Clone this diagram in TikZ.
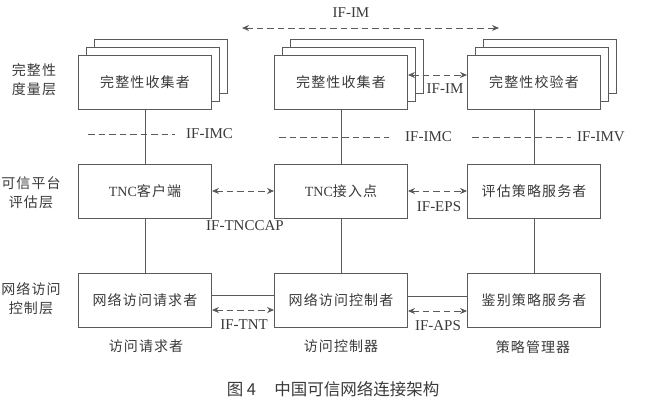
\documentclass[tikz,border=0pt]{standalone}
\usepackage{fontspec}
\setmainfont{Liberation Serif}
\newfontfamily\cjk[LetterSpace=8]{Noto Sans CJK SC}
\newfontfamily\cjkcap{Noto Sans CJK SC}
\usetikzlibrary{arrows.meta}
\definecolor{linegray}{HTML}{5A5A5A}
\definecolor{textgray}{HTML}{3A3A3A}

\begin{document}
\begin{tikzpicture}[x=1pt,y=-1pt,
  box/.style={draw=linegray,fill=white,line width=.9pt,inner sep=0pt,minimum width=133pt,minimum height=54pt,text=textgray,font=\fontsize{14}{16}\selectfont\cjk},
  lbl/.style={text=textgray,font=\fontsize{15}{17}\selectfont,inner sep=0pt},
  layer/.style={text=textgray,font=\fontsize{14}{19}\selectfont\cjk,align=center,inner sep=0pt},
  wire/.style={draw=linegray,line width=.9pt},
  dashline/.style={wire,dash pattern=on 6.5pt off 4pt},
  dasharrow/.style={dashline,{Stealth[length=7pt,width=6pt]}-{Stealth[length=7pt,width=6pt]}}]
  \useasboundingbox (0,0) rectangle (668,407);
  % layer names on the left
  \node[layer] (L1) at (34,80) {完整性\\度量层};
  \node[layer] (L2) at (31,193) {可信平台\\评估层};
  \node[layer] (L3) at (31,299) {网络访问\\控制层};
  % measurement layer: stacked boxes
  \foreach \x/\n/\t in {145/m1/完整性收集者,341/m2/完整性收集者,534/m3/完整性校验者}{
    \foreach \d in {16,8}
      \draw[wire,fill=white] (\x-66.5+\d,82-27-\d) rectangle ++(133,54);
    \node[box] (\n) at (\x,82) {\t};}
  % evaluation layer
  \node[box] (t1) at (145,191) {\textrm{TNC}客户端};
  \node[box] (t2) at (341,191) {\textrm{TNC}接入点};
  \node[box] (t3) at (534,191) {评估策略服务者};
  % access control layer
  \node[box] (n1) at (145,300) {网络访问请求者};
  \node[box] (n2) at (341,300) {网络访问控制者};
  \node[box] (n3) at (534,300) {鉴别策略服务者};
  % vertical links
  \foreach \c in {1,2,3}{
    \draw[wire] (m\c) -- (t\c);
    \draw[wire] (t\c) -- (n\c);}
  % IF-IMC / IF-IMV
  \coordinate (a1) at (88,134);  \coordinate (b1) at (175,134);
  \coordinate (a2) at (279,137); \coordinate (b2) at (389,137);
  \coordinate (a3) at (472,137); \coordinate (b3) at (571,137);
  \draw[dashline] (a1) -- (b1); \node[lbl,right=11pt] (imc1) at (b1) {IF-IMC};
  \draw[dashline] (a2) -- (b2); \node[lbl,right=16pt] (imc2) at (b2) {IF-IMC};
  \draw[dashline] (a3) -- (b3); \node[lbl,right=6pt] (imv) at (b3) {IF-IMV};
  % IF-IM on top
  \coordinate (imL) at (242,28); \coordinate (imR) at (499,28);
  \draw[dasharrow] (imL) -- (imR);
  \node[lbl] (im1) at (351,13) {IF-IM};
  \draw[dasharrow] ([yshift=7pt]m2.east) -- ([yshift=7pt]m3.west);
  \node[lbl] (im2) at (445,89) {IF-IM};
  % evaluation layer links
  \draw[dasharrow] (t1) -- (t2);
  \node[lbl] (tnccap) at (245,226) {IF-TNCCAP};
  \draw[dasharrow] (t2) -- (t3);
  \node[lbl] (eps) at (439,207) {IF-EPS};
  % access control layer links
  \draw[wire] ([yshift=5pt]n1.east) -- ([yshift=5pt]n2.west);
  \draw[dasharrow] ([yshift=-10pt]n1.east) -- ([yshift=-10pt]n2.west);
  \node[lbl] (tnt) at (244,325) {IF-TNT};
  \draw[wire] ([yshift=4pt]n2.east) -- ([yshift=4pt]n3.west);
  \draw[dasharrow] ([yshift=-11pt]n2.east) -- ([yshift=-11pt]n3.west);
  \node[lbl] (aps) at (438,326) {IF-APS};
  % entity names
  \node[layer] (e1) at (146,346) {访问请求者};
  \node[layer] (e2) at (341,346) {访问控制器};
  \node[layer] (e3) at (533,347) {策略管理器};
  % caption
  \node[text=textgray,font=\fontsize{16.5}{18}\selectfont\cjkcap] (cap) at (333,389) {图 4\hspace{1.1em}中国可信网络连接架构};
\end{tikzpicture}
\end{document}
